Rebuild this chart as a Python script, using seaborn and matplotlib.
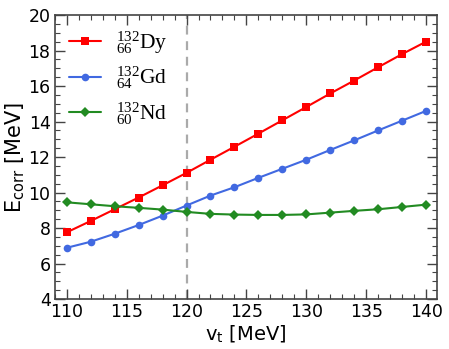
import matplotlib
matplotlib.use("Agg")
import matplotlib.pyplot as plt
import seaborn as sns
import pandas as pd
from matplotlib.ticker import MultipleLocator

vt = [110, 112, 114, 116, 118, 120, 122, 124, 126, 128, 130, 132, 134, 136, 138, 140]
dy = [7.76, 8.40, 9.06, 9.72, 10.41, 11.11, 11.85, 12.58, 13.32, 14.07, 14.82, 15.58, 16.31, 17.06, 17.80, 18.50]
gd = [6.89, 7.23, 7.68, 8.17, 8.70, 9.27, 9.83, 10.30, 10.83, 11.34, 11.85, 12.40, 12.94, 13.50, 14.05, 14.60]
nd = [9.45, 9.34, 9.23, 9.14, 9.04, 8.91, 8.80, 8.76, 8.74, 8.74, 8.77, 8.87, 8.97, 9.06, 9.19, 9.32]
labels = [r'$^{132}_{66}\mathrm{Dy}$', r'$^{132}_{64}\mathrm{Gd}$', r'$^{132}_{60}\mathrm{Nd}$']
colors = ['#ff0000', '#4169e1', '#228b22']
markers = ['s', 'o', 'D']

sns.set_style("ticks")
plt.rcParams['font.family'] = ['DejaVu Sans']
plt.rcParams['mathtext.fontset'] = 'custom'
plt.rcParams['mathtext.rm'] = 'Liberation Serif'
plt.rcParams['mathtext.it'] = 'Liberation Serif:italic'
plt.rcParams['mathtext.bf'] = 'Liberation Serif:bold'
plt.rcParams['mathtext.sf'] = 'DejaVu Sans'

df = pd.concat([
    pd.DataFrame({'vt': vt, 'E': v, 'nucleus': lab})
    for v, lab in zip([dy, gd, nd], labels)
])

fig = plt.figure(figsize=(4.49, 3.49), dpi=100)
ax = fig.add_axes([0.122, 0.143, 0.851, 0.814])

for lab, c, m in zip(labels, colors, markers):
    sub = df[df['nucleus'] == lab]
    sns.lineplot(data=sub, x='vt', y='E', ax=ax, color=c, marker=m,
                 markersize=5.5 if m != 'D' else 5, markeredgewidth=0,
                 linewidth=1.5, label=lab)

ax.axvline(120, color='#aaaaaa', linestyle='--', linewidth=1.6, dashes=(4, 3), zorder=0)

ax.set_xlim(109, 140.9)
ax.set_ylim(4, 20)
ax.xaxis.set_major_locator(MultipleLocator(5))
ax.xaxis.set_minor_locator(MultipleLocator(1))
ax.yaxis.set_major_locator(MultipleLocator(2))
ax.yaxis.set_minor_locator(MultipleLocator(0.5))
ax.tick_params(which='both', direction='in', top=True, right=True, color='#444444',
               labelcolor='black')
ax.tick_params(which='major', length=7, width=1, labelsize=12.5, pad=3)
ax.tick_params(which='minor', length=3.5, width=0.8)
for s in ax.spines.values():
    s.set_color('#444444')
    s.set_linewidth(1.2)

ax.set_xlabel(r'v$_\mathsf{t}$ [MeV]', fontsize=14, labelpad=2, color='black')
ax.set_ylabel(r'E$_\mathsf{corr}$ [MeV]', fontsize=15, labelpad=2, color='black')

leg = ax.legend(loc='upper left', frameon=False, fontsize=15.5, handlelength=1.5,
                labelspacing=0.42, borderaxespad=0.25, handletextpad=0.7)
for t in leg.get_texts():
    t.set_color('black')

fig.savefig('out.png', dpi=100)
